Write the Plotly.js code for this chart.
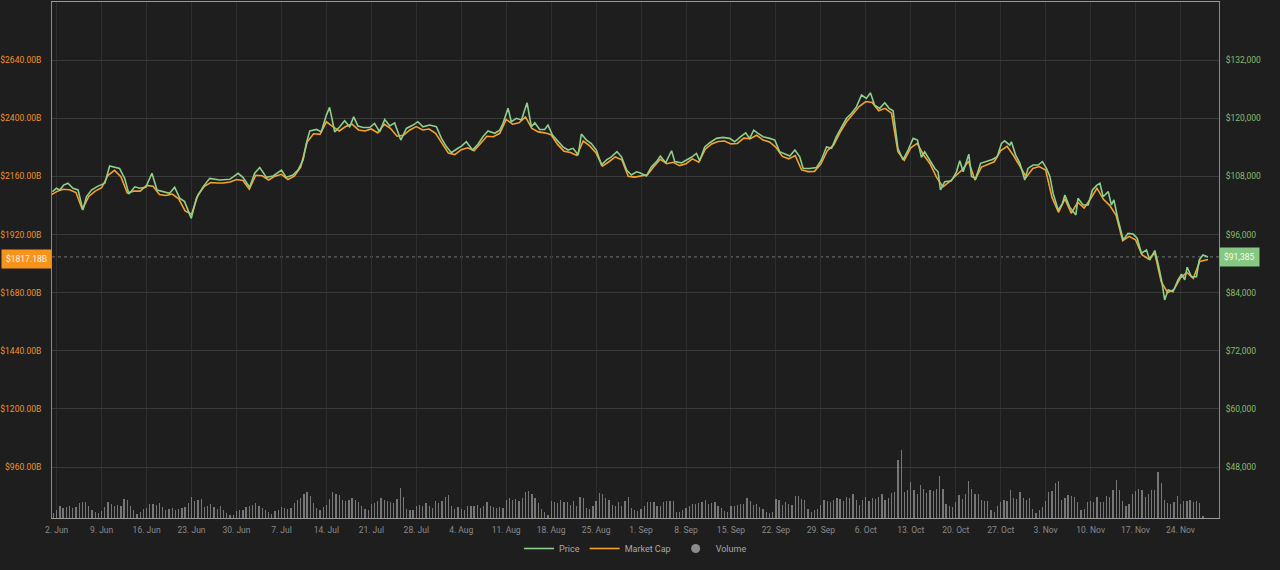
<!DOCTYPE html>
<html>
<head>
<meta charset="utf-8">
<script src="https://cdn.plot.ly/plotly-3.0.1.min.js"></script>
<style>
  html, body { margin: 0; padding: 0; background: #1e1e1e; }
  #chart { width: 1280px; height: 570px; }
</style>
</head>
<body>
<div id="chart"></div>
<script>
'use strict'

// price readings (USD), irregular timestamps
const priceTime = [
  '2025-06-01 08:00','2025-06-01 23:00','2025-06-02 11:00','2025-06-03 02:00','2025-06-03 18:00','2025-06-04 13:00',
  '2025-06-05 08:00','2025-06-06 02:00','2025-06-06 15:00','2025-06-07 10:00','2025-06-08 10:00','2025-06-09 12:00',
  '2025-06-10 06:00','2025-06-11 01:00','2025-06-11 19:00','2025-06-12 14:00','2025-06-13 06:00','2025-06-14 04:00',
  '2025-06-14 22:00','2025-06-15 21:00','2025-06-16 20:00','2025-06-17 15:00','2025-06-18 13:00','2025-06-19 14:00',
  '2025-06-20 09:00','2025-06-21 04:00','2025-06-21 22:00','2025-06-22 23:00','2025-06-23 18:00','2025-06-24 19:00',
  '2025-06-25 20:00','2025-06-27 09:00','2025-06-28 23:00','2025-06-30 06:00','2025-07-01 00:00','2025-07-02 01:00',
  '2025-07-02 20:00','2025-07-03 15:00','2025-07-04 16:00','2025-07-05 17:00','2025-07-07 00:00','2025-07-07 18:00',
  '2025-07-08 19:00','2025-07-09 14:00','2025-07-10 09:00','2025-07-10 21:00','2025-07-11 10:00','2025-07-12 11:00',
  '2025-07-13 05:00','2025-07-14 00:00','2025-07-14 12:00','2025-07-15 07:00','2025-07-16 02:00','2025-07-16 20:00',
  '2025-07-17 15:00','2025-07-18 06:00','2025-07-18 22:00','2025-07-19 17:00','2025-07-20 18:00','2025-07-21 12:00',
  '2025-07-22 07:00','2025-07-23 02:00','2025-07-23 21:00','2025-07-24 15:00','2025-07-25 14:00','2025-07-26 11:00',
  '2025-07-27 12:00','2025-07-28 06:00','2025-07-29 01:00','2025-07-30 02:00','2025-07-31 03:00','2025-07-31 22:00',
  '2025-08-01 17:00','2025-08-02 11:00','2025-08-03 06:00','2025-08-04 01:00','2025-08-04 19:00','2025-08-05 18:00',
  '2025-08-06 15:00','2025-08-07 09:00','2025-08-08 04:00','2025-08-09 05:00','2025-08-10 00:00','2025-08-10 12:00',
  '2025-08-11 07:00','2025-08-11 19:00','2025-08-12 14:00','2025-08-13 09:00','2025-08-14 06:00','2025-08-14 22:00',
  '2025-08-15 11:00','2025-08-16 05:00','2025-08-17 00:00','2025-08-17 12:00','2025-08-18 05:00','2025-08-19 02:00',
  '2025-08-19 20:00','2025-08-20 15:00','2025-08-21 10:00','2025-08-22 05:00','2025-08-22 17:00','2025-08-23 12:00',
  '2025-08-24 06:00','2025-08-25 01:00','2025-08-25 20:00','2025-08-26 15:00','2025-08-27 09:00','2025-08-28 06:00',
  '2025-08-28 23:00','2025-08-29 18:00','2025-08-30 12:00','2025-08-31 07:00','2025-08-31 19:00','2025-09-01 20:00',
  '2025-09-02 15:00','2025-09-03 10:00','2025-09-04 00:00','2025-09-04 20:00','2025-09-05 18:00','2025-09-06 06:00',
  '2025-09-07 07:00','2025-09-08 02:00','2025-09-08 20:00','2025-09-09 15:00','2025-09-10 03:00','2025-09-10 22:00',
  '2025-09-11 17:00','2025-09-12 18:00','2025-09-13 18:00','2025-09-14 19:00','2025-09-15 14:00','2025-09-16 09:00',
  '2025-09-17 07:00','2025-09-17 22:00','2025-09-18 13:00','2025-09-19 05:00','2025-09-20 00:00','2025-09-21 01:00',
  '2025-09-21 20:00','2025-09-22 14:00','2025-09-23 09:00','2025-09-24 04:00','2025-09-24 23:00','2025-09-25 17:00',
  '2025-09-26 06:00','2025-09-27 06:00','2025-09-28 08:00','2025-09-29 02:00','2025-09-29 21:00','2025-09-30 16:00',
  '2025-10-01 10:00','2025-10-02 05:00','2025-10-03 00:00','2025-10-03 18:00','2025-10-04 13:00','2025-10-05 08:00',
  '2025-10-06 02:00','2025-10-06 17:00','2025-10-07 09:00','2025-10-08 04:00','2025-10-08 23:00','2025-10-09 15:00',
  '2025-10-10 06:00','2025-10-11 00:00','2025-10-11 19:00','2025-10-12 14:00','2025-10-13 09:00','2025-10-14 01:00',
  '2025-10-14 16:00','2025-10-15 04:00','2025-10-16 00:00','2025-10-16 18:00','2025-10-17 06:00','2025-10-17 15:00',
  '2025-10-18 07:00','2025-10-19 08:00','2025-10-20 03:00','2025-10-20 15:00','2025-10-21 04:00','2025-10-21 14:00',
  '2025-10-22 01:00','2025-10-22 11:00','2025-10-23 03:00','2025-10-23 21:00','2025-10-24 19:00','2025-10-25 17:00',
  '2025-10-26 11:00','2025-10-27 03:00','2025-10-27 15:00','2025-10-28 10:00','2025-10-28 16:00','2025-10-29 08:00',
  '2025-10-30 00:00','2025-10-30 18:00','2025-10-31 06:00','2025-11-01 01:00','2025-11-01 20:00','2025-11-02 12:00',
  '2025-11-03 03:00','2025-11-03 16:00','2025-11-04 04:00','2025-11-04 23:00','2025-11-05 15:00','2025-11-06 00:00',
  '2025-11-06 18:00','2025-11-07 17:00','2025-11-08 01:00','2025-11-08 20:00','2025-11-09 15:00','2025-11-10 07:00',
  '2025-11-11 00:00','2025-11-11 11:00','2025-11-11 23:00','2025-11-12 18:00','2025-11-13 06:00','2025-11-13 15:00',
  '2025-11-14 07:00','2025-11-15 02:00','2025-11-15 20:00','2025-11-16 15:00','2025-11-17 06:00','2025-11-17 22:00',
  '2025-11-18 17:00','2025-11-19 05:00','2025-11-20 00:00','2025-11-20 12:00','2025-11-21 01:00','2025-11-21 13:00',
  '2025-11-22 02:00','2025-11-22 20:00','2025-11-23 15:00','2025-11-24 04:00','2025-11-24 16:00','2025-11-25 01:00',
  '2025-11-25 17:00','2025-11-26 12:00','2025-11-26 22:00','2025-11-27 12:00','2025-11-28 07:00'
];
const priceUsd = [
  104850,105550,105200,106200,106600,105550, 105200,101050,103800,105200,106000,106600,
  110150,109850,109650,107600,104350,105850, 105550,105750,108650,105200,104850,104500,
  105750,103500,102800,99350,103500,105850, 107600,107250,107400,108650,107800,105750,
  108650,109850,107800,108100,109300,107800, 108300,109300,111400,114800,117400,117700,
  117200,120650,122250,117200,118250,119500, 118250,120300,118400,118100,118100,118950,
  117200,119750,118400,119050,115500,117900, 118600,119300,118250,118600,118250,115850,
  114100,112900,113600,114250,115150,113450, 114700,116200,117400,116900,117550,118950,
  122050,119300,120000,119650,123200,118250, 119050,117700,117700,118600,116550,115150,
  114100,113450,113800,112400,116750,115500, 114800,113450,110350,111400,112050,113100,
  112050,109300,108300,108950,108750,108100, 110000,111050,112200,110800,113300,111050,
  110800,111400,111950,112750,111250,114100, 114950,115850,116050,115850,115150,116050,
  117000,115850,117550,116900,116200,115850, 115500,113100,112600,112200,113450,112050,
  109650,109650,109850,111400,114100,113800, 116200,118250,120000,121000,122350,124800,
  124100,125250,122700,122050,123200,122050, 121550,113800,111400,113450,115850,115500,
  111950,113100,111400,109650,108950,105200, 106900,107100,108950,111250,108950,110700,
  112600,108000,107600,110700,111050,111500, 112050,114800,115350,114450,115150,112400,
  110700,107250,109650,110350,110350,111050, 109650,108000,104500,101050,102450,104150,
  101650,100050,103500,102100,102100,105200, 106200,106600,103800,104850,102100,103150,
  99000,94900,96250,96100,95250,92150, 92800,90750,92700,90100,86650,82500,
  84600,84200,86650,87850,86650,89250, 87300,87300,90750,91800,91385
];

// market cap (billion USD), daily from 1 Jun, plus the latest reading
const mcStartDay = Date.UTC(2025, 5, 1);
const mcDailyB = [
  2081.5,2097.3,2107.3,2105.3,2093.4,2023.8,2077.5,2099.3,2113.2,2164.9,
  2184.8,2159.0,2091.4,2099.3,2099.3,2123.2,2119.2,2085.4,2081.5,2087.4,
  2067.5,2017.8,2003.9,2083.4,2119.2,2135.1,2133.1,2133.1,2137.1,2147.0,
  2143.1,2107.3,2164.9,2162.9,2145.1,2161.0,2168.9,2147.0,2161.0,2198.7,
  2302.1,2335.9,2333.9,2385.6,2365.7,2347.8,2365.7,2375.7,2351.8,2347.8,
  2355.8,2339.9,2375.7,2357.8,2326.0,2329.9,2351.8,2365.7,2351.8,2355.8,
  2337.9,2298.1,2256.4,2250.4,2270.3,2278.2,2266.3,2296.1,2326.0,2324.0,
  2337.9,2395.5,2375.7,2381.6,2405.5,2357.8,2343.9,2339.9,2331.9,2292.2,
  2264.3,2258.4,2246.4,2306.1,2286.2,2256.4,2202.7,2220.6,2240.5,2228.5,
  2161.0,2157.0,2161.0,2166.9,2200.7,2230.5,2212.6,2218.6,2204.7,2212.6,
  2232.5,2218.6,2272.3,2294.2,2304.1,2306.1,2294.2,2296.1,2318.0,2316.0,
  2329.9,2310.1,2302.1,2280.2,2242.5,2232.5,2246.4,2186.8,2179.8,2180.8,
  2210.7,2266.3,2290.2,2341.9,2385.6,2415.4,2449.2,2469.1,2465.1,2431.3,
  2441.3,2421.4,2262.3,2226.6,2278.2,2296.1,2248.4,2212.6,2157.0,2117.2,
  2137.1,2162.9,2186.8,2222.6,2145.1,2198.7,2210.7,2220.6,2266.3,2284.2,
  2246.4,2200.7,2157.0,2192.8,2200.7,2186.8,2073.5,2011.9,2067.5,2007.9,
  2053.6,2029.7,2067.5,2111.3,2065.5,2039.7,1997.9,1894.6,1912.5,1898.5,
  1836.9,1819.0,1842.9,1725.6,1679.9,1693.8,1741.5,1763.4,1739.5,1809.1,
  1815.0
];
const lastTime = '2025-11-28 07:00';
const mcLatestB = 1817.18;
const priceLatest = 91385;

// 24h volume (billion USD), every 12 hours from 1 Jun 12:00
const volStart = Date.UTC(2025, 5, 1, 12);
const volStep = 12 * 3600 * 1000;
const volumeB = [
  11.6,19.4,28.7,23.3,24.8,27.2,23.3,25.6,34.9,37.2,
  36.5,28.7,17.8,14.0,11.6,15.5,24.8,37.2,33.4,27.2,
  31.0,28.7,44.2,42.7,28.7,19.4,10.1,14.0,21.0,23.3,
  33.4,32.6,29.5,34.9,25.6,19.4,21.0,23.3,17.8,21.0,22.5,
  25.6,34.9,48.1,38.8,42.7,45.0,25.6,28.7,32.6,25.6,
  21.0,27.2,19.4,11.6,6.2,7.8,15.5,19.4,19.4,25.6,
  28.7,29.5,34.9,28.7,23.3,19.4,13.2,10.1,15.5,19.4,
  25.6,23.3,21.0,23.3,34.9,41.1,46.6,56.6,59.8,50.4,36.0,
  23.3,19.4,25.6,31.0,44.2,60.5,56.6,54.3,42.7,38.8,
  42.7,46.6,41.1,36.5,27.2,21.0,17.8,32.6,34.9,38.8,
  46.6,42.7,38.8,37.2,34.9,44.2,69.8,48.9,21.0,17.8,
  19.4,27.2,31.0,28.7,34.9,27.2,23.3,38.8,35.0,
  40.4,48.9,54.3,28.7,21.0,25.6,21.0,17.8,27.2,28.7,
  27.2,29.5,23.3,28.7,37.2,28.7,25.6,23.3,25.6,23.3,
  42.7,46.6,42.7,44.2,38.8,46.6,60.5,62.1,56.6,46.6,
  34.9,21.0,13.2,7.8,38.8,36.5,34.9,42.7,37.2,36.5,31.0,
  38.8,28.7,48.9,46.6,23.3,21.0,28.7,38.8,58.2,55.9,
  46.6,41.1,31.0,28.7,36.5,28.7,38.8,48.1,23.3,19.4,
  15.5,21.0,27.2,36.5,37.2,36.5,28.7,27.2,36.5,40.4,
  38.8,38.8,14.0,13.2,17.8,23.3,28.7,33.4,32.6,34.9,38.0,
  41.1,33.4,34.9,36.5,27.2,23.3,15.5,13.2,27.2,28.7,
  31.0,32.6,33.4,46.6,38.8,31.0,33.4,25.6,21.0,13.2,
  11.6,14.0,45.0,41.1,31.0,37.2,33.4,29.5,52.0,50.4,
  45.0,42.7,21.0,13.2,17.8,21.0,31.0,42.7,40.0,
  37.2,41.1,47.3,45.0,39.6,48.9,47.3,55.1,42.7,29.5,
  42.7,48.9,39.6,47.3,45.0,48.9,56.6,42.7,47.3,58.2,
  60.5,134.2,157.5,60.5,64.4,83.8,64.4,56.6,77.6,68.3,
  58.2,64.4,62.9,68.3,97.0,68.3,31.8,27.2,25.6,37.2,
  52.8,45.0,56.6,86.1,68.3,56.6,56.6,41.1,38.8,38.8,
  19.4,14.0,27.2,37.2,41.1,39.6,64.4,47.3,45.0,60.5,
  47.3,42.7,47.3,21.7,11.6,17.8,25.6,38.8,60.5,62.9,
  81.5,85.4,42.7,47.3,52.8,50.4,48.9,37.2,19.4,21.7,
  37.2,38.8,37.2,48.9,37.2,37.2,50.4,48.9,66.0,87.7,
  66.0,39.6,27.2,31.8,56.6,62.9,68.3,64.4,48.9,56.6,
  66.0,66.0,107.1,81.5,42.7,34.9,31.8,37.2,50.4,33.4,
  38.8,39.6,41.1,37.2,39.6,36.0,3.9
];

// axis ticks
const mcTicks = [960, 1200, 1440, 1680, 1920, 2160, 2400, 2640];
const priceTicks = [48000, 60000, 72000, 84000, 96000, 108000, 120000, 132000];
const mcTickText = mcTicks.map(v => '$' + v.toFixed(2) + 'B');
const priceTickText = priceTicks.map(v => '$' + v.toLocaleString('en-US'));

const priceColor = '#8fcf8c';
const mcColor = '#f6a12e';

// build x values
let mcTime = mcDailyB.map((v, i) => mcStartDay + i * 86400000);
mcTime.push(lastTime);
let mcVals = mcDailyB.concat([mcLatestB]);
let volTime = volumeB.map((v, i) => volStart + i * volStep);

let traceVol = {
  type: 'bar',
  x: volTime,
  y: volumeB,
  yaxis: 'y3',
  width: 17000000,
  marker: { color: 'rgba(150,150,150,0.75)', line: { width: 0 } },
  name: 'Volume',
  showlegend: false,
  hoverinfo: 'skip'
};

let tracePrice = {
  type: 'scatter',
  mode: 'lines',
  x: priceTime,
  y: priceUsd,
  yaxis: 'y2',
  name: 'Price',
  line: { color: priceColor, width: 1.6 },
  legendrank: 1
};

let traceMc = {
  type: 'scatter',
  mode: 'lines',
  x: mcTime,
  y: mcVals,
  yaxis: 'y',
  name: 'Market Cap',
  line: { color: mcColor, width: 1.6 },
  legendrank: 2
};

// legend entry only (circle symbol for volume)
let traceVolLegend = {
  type: 'scatter',
  mode: 'markers',
  x: [null],
  y: [null],
  name: 'Volume',
  marker: { color: '#8c8c8c', size: 9 },
  legendrank: 3
};

let layout = {
  width: 1280,
  height: 570,
  paper_bgcolor: '#1e1e1e',
  plot_bgcolor: '#1e1e1e',
  margin: { l: 52, r: 61, t: 2, b: 52 },
  font: { family: 'Roboto, "Open Sans", sans-serif', size: 9, color: '#999' },
  hovermode: false,
  bargap: 0,
  showlegend: true,
  legend: {
    orientation: 'h', x: 0.5, xanchor: 'center', y: -0.031, yanchor: 'top',
    font: { size: 9, color: '#a8a8a8' }, bgcolor: 'rgba(0,0,0,0)',
    itemwidth: 30
  },
  xaxis: {
    type: 'date',
    range: ['2025-06-01 06:30', '2025-11-30 00:00'],
    tick0: '2025-06-02',
    dtick: 7 * 86400000,
    tickformat: '%-d. %b',
    ticks: '',
    ticklabelstandoff: 4,
    showgrid: true,
    gridcolor: '#2e2e2e',
    showline: true,
    linecolor: '#9a9a9a',
    mirror: true,
    zeroline: false,
    tickfont: { size: 8.5, color: '#8a8a8a' }
  },
  yaxis: {
    range: [750, 2880],
    tickmode: 'array',
    tickvals: mcTicks,
    ticktext: mcTickText,
    ticks: '',
    ticklabelstandoff: 8,
    gridcolor: '#3a3a3a',
    showline: true,
    linecolor: '#8a8a8a',
    zeroline: false,
    tickfont: { size: 8.5, color: '#ee922f' }
  },
  yaxis2: {
    overlaying: 'y',
    side: 'right',
    range: [37500, 144000],
    tickmode: 'array',
    tickvals: priceTicks,
    ticktext: priceTickText,
    ticks: '',
    ticklabelstandoff: 4,
    showgrid: false,
    showline: true,
    linecolor: '#8a8a8a',
    zeroline: false,
    tickfont: { size: 8.5, color: '#86bd6e' }
  },
  yaxis3: {
    overlaying: 'y',
    range: [0, 1200],
    visible: false,
    fixedrange: true
  },
  shapes: [{
    type: 'line', xref: 'paper', x0: 0, x1: 1, yref: 'y2', y0: priceLatest, y1: priceLatest,
    line: { color: '#777', width: 1, dash: 'dot' }, layer: 'below'
  }],
  annotations: [
    {
      xref: 'paper', x: 0, xanchor: 'right', yref: 'y', y: mcLatestB, yanchor: 'middle',
      text: '$' + mcLatestB.toFixed(2) + 'B', showarrow: false,
      font: { size: 8.5, color: '#fff4e6' }, bgcolor: '#f7931a', borderpad: 4
    },
    {
      xref: 'paper', x: 1, xanchor: 'left', yref: 'y2', y: priceLatest, yanchor: 'middle',
      text: '$' + priceLatest.toLocaleString('en-US'), showarrow: false,
      font: { size: 8.5, color: '#f2fff0' }, bgcolor: '#86c882', borderpad: 4
    }
  ]
};

Plotly.newPlot('chart', [traceVol, tracePrice, traceMc, traceVolLegend], layout, { staticPlot: true, displayModeBar: false });
</script>
</body>
</html>
